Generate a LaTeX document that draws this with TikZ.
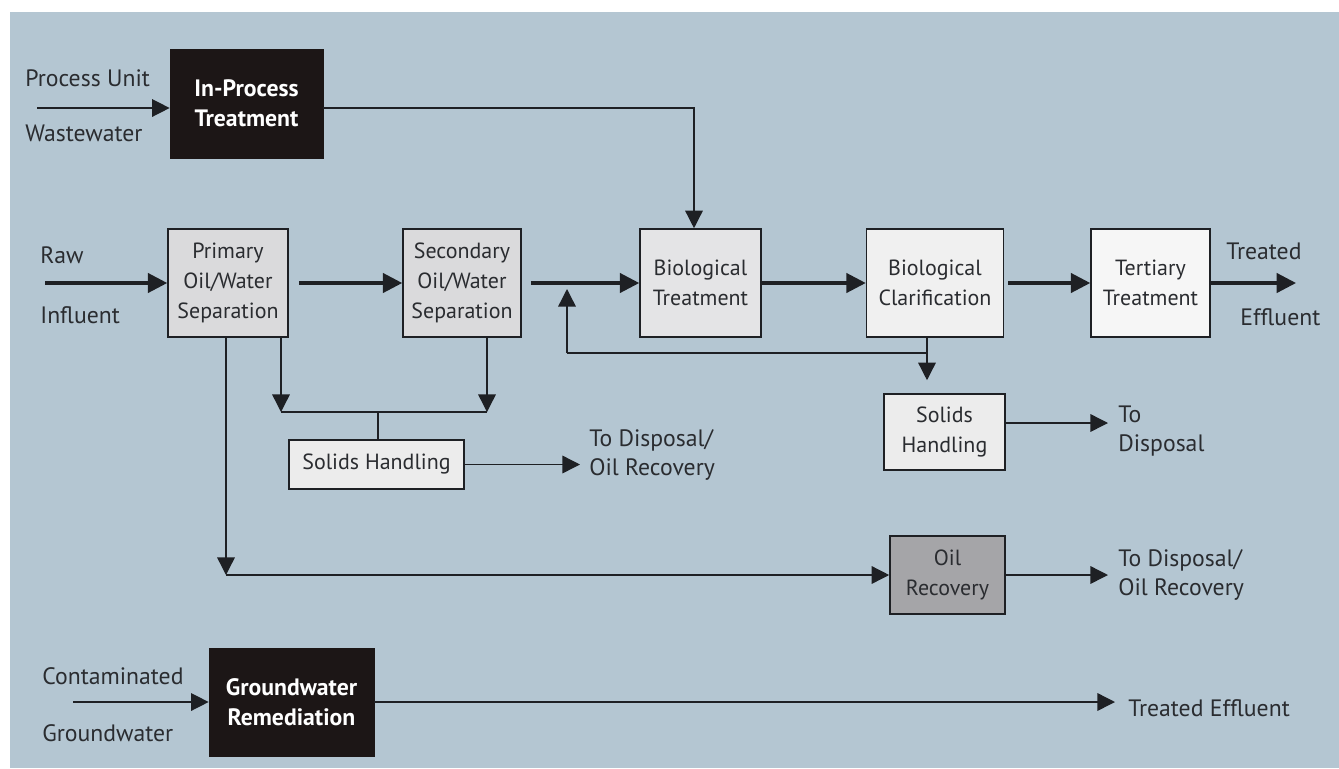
\documentclass[tikz,border=0pt]{standalone}
\usepackage{fontspec}
\setmainfont{PT Sans}
\usetikzlibrary{arrows.meta,calc}
\definecolor{bgc}{RGB}{180,198,210}
\definecolor{txt}{RGB}{42,44,48}
\definecolor{ln}{RGB}{30,32,36}
\definecolor{blk}{RGB}{28,22,22}
\definecolor{fa}{RGB}{218,218,220}
\definecolor{fb}{RGB}{228,228,230}
\definecolor{fc}{RGB}{240,240,240}
\definecolor{fd}{RGB}{246,246,246}
\definecolor{fe}{RGB}{236,236,236}
\definecolor{fo}{RGB}{165,165,168}
\begin{document}
\begin{tikzpicture}[x=0.02cm,y=-0.02cm,
  every node/.style={text=txt,font=\fontsize{12.5}{17}\selectfont},
  box/.style={draw=ln,line width=0.9pt,inner sep=0pt,align=center},
  darkbox/.style={fill=blk,draw=blk,inner sep=0pt,align=center,text=white,font=\fontsize{13.5}{17}\selectfont\bfseries},
  lbl/.style={anchor=west,inner sep=0pt,align=left,font=\fontsize{13.5}{17}\selectfont},
  bigarr/.style={draw=ln,line width=1.8pt,-{Triangle[length=11pt,width=11pt]}},
  thinarr/.style={draw=ln,line width=0.8pt,-{Triangle[length=10pt,width=10pt]}},
  thinln/.style={draw=ln,line width=0.8pt}]
\useasboundingbox (0,0) rectangle (1339,768);
\fill[white] (0,0) rectangle (1339,768);
\fill[bgc] (10,12) rectangle (1339,768);

% boxes
\node[darkbox,minimum width=3.06cm,minimum height=2.18cm] (inproc) at (246.5,103.5) {In-Process\\Treatment};
\node[box,fill=fa,minimum width=2.4cm,minimum height=2.16cm] (primary) at (228,283) {Primary\\Oil/Water\\Separation};
\node[box,fill=fa,minimum width=2.36cm,minimum height=2.16cm] (secondary) at (462,283) {Secondary\\Oil/Water\\Separation};
\node[box,fill=fb,minimum width=2.42cm,minimum height=2.16cm] (biot) at (700.5,283) {Biological\\Treatment};
\node[box,fill=fc,minimum width=2.74cm,minimum height=2.16cm] (clar) at (935,283) {Biological\\Clarification};
\node[box,fill=fd,minimum width=2.38cm,minimum height=2.16cm] (tert) at (1150.5,283) {Tertiary\\Treatment};
\node[box,fill=fe,minimum width=3.5cm,minimum height=0.98cm] (solidsa) at (376.5,464.5) {Solids Handling};
\node[box,fill=fe,minimum width=2.42cm,minimum height=1.52cm] (solidsb) at (944.5,432) {Solids\\Handling};
\node[box,fill=fo,minimum width=2.3cm,minimum height=1.56cm] (oilrec) at (947.5,575) {Oil\\Recovery};
\node[darkbox,minimum width=3.3cm,minimum height=2.16cm] (gw) at (291.5,702) {Groundwater\\Remediation};

% labels
\node[lbl] (lpu) at (25,78) {Process Unit};
\node[lbl] (lww) at (25,133) {Wastewater};
\node[lbl] (lraw) at (40,255) {Raw};
\node[lbl] (linf) at (40,315) {Influent};
\node[lbl] (ltr) at (1226,251) {Treated};
\node[lbl] (lef) at (1240,317) {Effluent};
\node[lbl] (ld1) at (589,455) {To Disposal/\\Oil Recovery};
\node[lbl] (ld2) at (1118,431) {To\\Disposal};
\node[lbl] (ld3) at (1118,575) {To Disposal/\\Oil Recovery};
\node[lbl] (lcon) at (42,676) {Contaminated};
\node[lbl] (lgw) at (42,733) {Groundwater};
\node[lbl] (lte) at (1128,708) {Treated Effluent};

% free ends
\coordinate (pin) at (37,108);
\coordinate (rin) at (45,283);
\coordinate (gin) at (73,702);
\coordinate (eout) at (1296,283);
\coordinate (d1) at (580,464.5);
\coordinate (d2) at (1108,423);
\coordinate (d3) at (1108,575);
\coordinate (te) at (1115,702);
\coordinate (rj) at (927,353);
\coordinate (rl) at (567,353);
\coordinate (rup) at (567,289);
\coordinate (pa) at (226,575);
\coordinate (sl) at (281,412);
\coordinate (sr) at (487,412);
\coordinate (sm) at (378,412);

% connectors
\draw[thinarr] (pin) -- (inproc.west |- pin);
\draw[thinarr] ([yshift=-0.09cm]inproc.east) -| ([xshift=-0.13cm]biot.north);
\draw[bigarr] (rin) -- (primary.west);
\draw[bigarr] ([xshift=0.2cm]primary.east) -- (secondary.west);
\draw[bigarr] ([xshift=0.18cm]secondary.east) -- (biot.west);
\draw[bigarr] (biot.east) -- (clar.west);
\draw[bigarr] ([xshift=0.08cm]clar.east) -- (tert.west);
\draw[bigarr] (tert.east) -- (eout);
\draw[thinln] (clar.south -| rj) -- (rj) -- (rl);
\draw[thinarr] (rl) -- (rup);
\draw[thinarr,shorten >=0.26cm] (rj) -- (solidsb.north -| rj);
\draw[thinarr] (primary.south -| sl) -- (sl);
\draw[thinarr] (secondary.south -| sr) -- (sr);
\draw[thinln] (sl) -- (sr);
\draw[thinln] (sm) -- (solidsa.north -| sm);
\draw[thinarr] (solidsa.east) -- (d1);
\draw[thinarr] (solidsb.east |- d2) -- (d2);
\draw[thinarr] (primary.south -| pa) -- (pa);
\draw[thinarr] (pa) -- (oilrec.west);
\draw[thinarr] (oilrec.east) -- (d3);
\draw[thinarr] (gin) -- (gw.west);
\draw[thinarr] (gw.east) -- (te);
\end{tikzpicture}
\end{document}
